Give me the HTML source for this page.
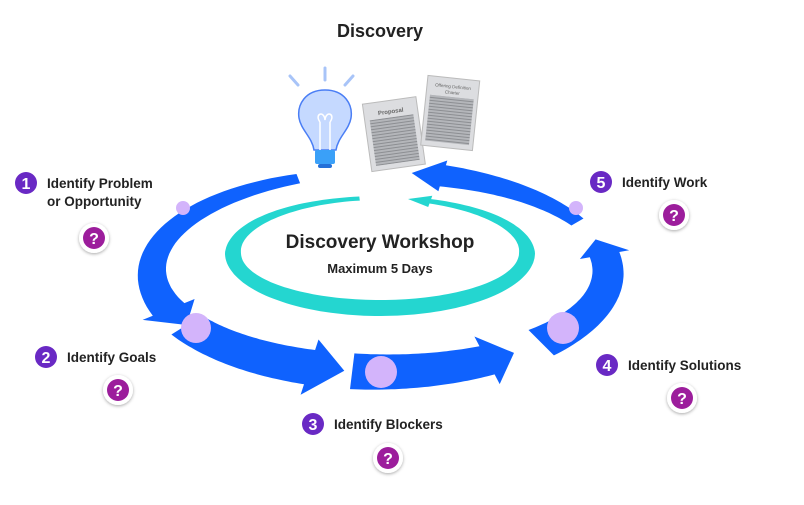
<!DOCTYPE html>
<html><head><meta charset="utf-8"><style>
body{margin:0;background:#fff;width:804px;height:500px;overflow:hidden;font-family:"Liberation Sans",sans-serif}
</style></head><body>
<svg id="s" width="804" height="500" xmlns="http://www.w3.org/2000/svg">
<defs><filter id="sh" x="-50%" y="-50%" width="200%" height="200%"><feDropShadow dx="0" dy="1" stdDeviation="1.5" flood-color="#000" flood-opacity="0.35"/></filter>
<pattern id="ln" width="4" height="3" patternUnits="userSpaceOnUse"><rect width="4" height="3" fill="#b4b6ba"/><rect width="4" height="1" fill="#8c8e92"/></pattern></defs>
<text x="380" y="37" text-anchor="middle" font-size="18" font-weight="bold" fill="#222">Discovery</text>
<g id="arcs"></g>
<!-- bulb -->
<g stroke="#a8c4f8" stroke-width="3" stroke-linecap="round">
<line x1="325" y1="68" x2="325" y2="80"/><line x1="290" y1="76" x2="298" y2="85"/><line x1="353" y1="76" x2="345" y2="85"/></g>
<path d="M325 90 C305 90 297 105 299 118 C301 130 312 137 314 150 L336 150 C338 137 349 130 351 118 C353 105 345 90 325 90Z" fill="#c5d9ff" stroke="#4a7ef5" stroke-width="1.5"/>
<path d="M320 150 V122 M330 150 V122 M320 122 c-6 -8 4 -12 5 -2 c1 -10 11 -6 5 2" fill="none" stroke="#fff" stroke-width="1.5"/>
<rect x="315" y="150" width="20" height="14" rx="2" fill="#3aa0f8"/>
<rect x="318" y="164" width="14" height="4" rx="2" fill="#2470d8"/>
<!-- docs -->
<g transform="rotate(-8 395 135)"><rect x="367" y="100" width="54" height="68" fill="#dcdde0" stroke="#bbb"/><text x="394" y="113" font-size="6" font-weight="bold" text-anchor="middle" fill="#666">Proposal</text><rect x="372" y="117" width="44" height="46" fill="url(#ln)"/></g>
<g transform="rotate(6 450 115)"><rect x="424" y="78" width="52" height="70" fill="#dcdde0" stroke="#bbb"/><text x="450" y="88" font-size="4.5" text-anchor="middle" fill="#666">Offering Definition</text><text x="450" y="94" font-size="4.5" text-anchor="middle" fill="#666">Charter</text><rect x="428" y="97" width="44" height="46" fill="url(#ln)"/></g>
<text x="380" y="248" text-anchor="middle" font-size="19" font-weight="bold" fill="#222">Discovery Workshop</text>
<text x="380" y="273" text-anchor="middle" font-size="13" font-weight="bold" fill="#222">Maximum 5 Days</text>
<g fill="#d3b4fb"><circle cx="183" cy="208" r="7"/><circle cx="196" cy="328" r="15"/><circle cx="381" cy="372" r="16"/><circle cx="563" cy="328" r="16"/><circle cx="576" cy="208" r="7"/></g>
<g id="lbl" font-size="13.5" font-weight="bold" fill="#222"></g>
</svg>
<script>
function arc(cx,cy,rx,ry,a0,a1,w0,w1,hw,hl,col){
 const R=Math.PI/180,n=40,o=[],i=[];
 for(let k=0;k<=n;k++){const t=k/n,a=(a0+(a1-a0)*t)*R,w=(w0+(w1-w0)*t)/2;
  o.push([cx+(rx+w)*Math.cos(a),cy+(ry+w)*Math.sin(a)]);i.push([cx+(rx-w)*Math.cos(a),cy+(ry-w)*Math.sin(a)]);}
 const a=a1*R,at=(a1-hl)*R,h=hw/2;
 const pts=o.concat([[cx+(rx+h)*Math.cos(a),cy+(ry+h)*Math.sin(a)],[cx+rx*Math.cos(at),cy+ry*Math.sin(at)],[cx+(rx-h)*Math.cos(a),cy+(ry-h)*Math.sin(a)]],i.reverse());
 return '<polygon fill="'+col+'" points="'+pts.map(p=>p[0].toFixed(1)+','+p[1].toFixed(1)).join(' ')+'"/>';}
const B='#0f62fe';let h='';
h+=arc(380,272,228,100,249,158,10,34,56,10,B);
h+=arc(380,272,228,100,148,108,36,36,58,9,B);
h+=arc(380,272,228,100,97,62,36,32,54,8,B);
h+=arc(380,272,228,100,45,-10,36,30,50,9,B);
h+=arc(380,272,228,100,-30,-74,14,22,32,8,B);
function tealArc(){const R=Math.PI/180,n=160,o=[],i=[],cx=380,cy=253,rx=147,ry=55,a0=262,a1=-70;
 for(let k=0;k<=n;k++){const t=k/n,aa=a0+(a1-a0)*t,a=aa*R;const w=(16-12*Math.max(0,-Math.sin(a)))/2;
  o.push([cx+(rx+w)*Math.cos(a),cy+(ry+w)*Math.sin(a)]);i.push([cx+(rx-w)*Math.cos(a),cy+(ry-w)*Math.sin(a)]);}
 const a=a1*R,at=(a1-9)*R;
 const pts=o.concat([[cx+(rx+6)*Math.cos(a),cy+(ry+6)*Math.sin(a)],[cx+rx*Math.cos(at),cy+ry*Math.sin(at)],[cx+(rx-6)*Math.cos(a),cy+(ry-6)*Math.sin(a)]],i.reverse());
 return '<polygon fill="#24d6d0" points="'+pts.map(p=>p[0].toFixed(1)+','+p[1].toFixed(1)).join(' ')+'"/>';}
h+=tealArc();
document.getElementById('arcs').innerHTML=h;
const L=[[26,183,1,['Identify Problem','or Opportunity'],94,238],[46,357,2,['Identify Goals'],118,390],[313,424,3,['Identify Blockers'],388,458],[607,365,4,['Identify Solutions'],682,398],[601,182,5,['Identify Work'],674,215]];
let g='';
for(const [x,y,n,ts,qx,qy] of L){
 g+='<circle cx="'+x+'" cy="'+y+'" r="11" fill="#6929c4"/><text x="'+x+'" y="'+(y+6)+'" text-anchor="middle" fill="#fff" font-size="16">'+n+'</text>';
 ts.forEach((t,k)=>g+='<text x="'+(x+21)+'" y="'+(y+5+k*18)+'">'+t+'</text>');
 g+='<circle cx="'+qx+'" cy="'+qy+'" r="15" fill="#fff" filter="url(#sh)"/><circle cx="'+qx+'" cy="'+qy+'" r="11" fill="#9c1d9c"/><text x="'+qx+'" y="'+(qy+6)+'" text-anchor="middle" fill="#fff" font-size="16">?</text>';}
document.getElementById('lbl').innerHTML=g;
</script>
</body></html>
